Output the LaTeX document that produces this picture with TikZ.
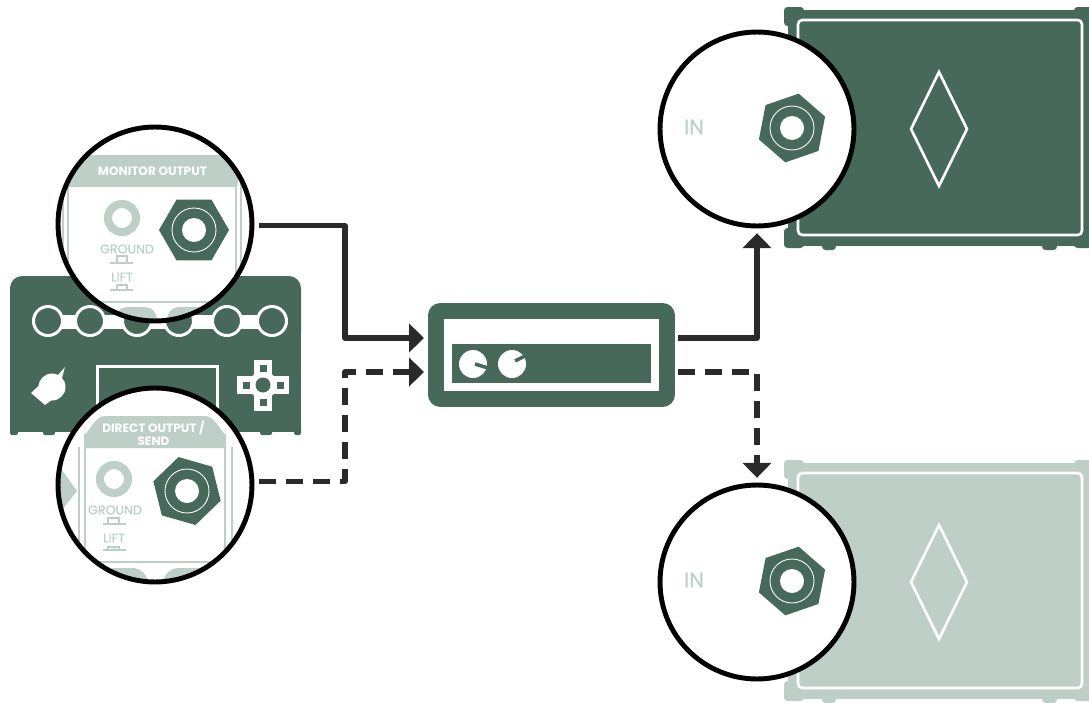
\documentclass[tikz,border=0pt]{standalone}
\usepackage{fontspec}
\setmainfont{Poppins}
\newfontfamily\markfont[FakeBold=0.4]{Poppins}
\usetikzlibrary{arrows.meta}
\definecolor{ampdark}{HTML}{47695A}
\definecolor{amplight}{HTML}{BDCFC7}
\definecolor{wirecol}{HTML}{2A2A2A}
\tikzset{
  lens/.style={circle, draw=black, line width=2.8pt, minimum size=3.88cm, inner sep=0pt, outer sep=4.1pt},
  wire/.style={draw=wirecol, line width=2.9pt, line join=round},
  dashwire/.style={wire, dash pattern=on 9.6pt off 5.8pt},
  tip/.style={-{Triangle[length=8.5pt, width=16pt]}},
  paneltxt/.style={text=white, font=\bfseries\fontsize{6.9}{7.4}\selectfont, align=center, inner sep=0pt},
  marktxt/.style={text=amplight, font=\markfont\fontsize{7.2}{8}\selectfont, inner sep=0pt},
  intxt/.style={text=amplight, font=\markfont\fontsize{12}{14}\selectfont, inner sep=0pt},
  panelline/.style={draw=amplight, line width=1.2pt},
  whiteline/.style={draw=white, line width=1.5pt}
}
\begin{document}
\begin{tikzpicture}[x=0.02cm, y=-0.02cm]
          \useasboundingbox (0,0) rectangle (1089,703);

          % speaker cabinets
          \foreach \yy/\bodycol in {0/ampdark,453/amplight} {
            \begin{scope}[shift={(0,\yy)}]
              \fill[\bodycol] (788,10) rectangle (1089,245.5);
              \fill[\bodycol, rounded corners=2pt] (784,7) rectangle (804,26);
              \fill[\bodycol, rounded corners=2pt] (784,228) rectangle (804,248);
              \fill[\bodycol, rounded corners=2pt] (822,240) rectangle (836,250);
              \fill[\bodycol, rounded corners=2pt] (1042,240) rectangle (1057,250);
              \fill[\bodycol, rounded corners=2pt] (1074,228) rectangle (1095,248);
              \fill[\bodycol, rounded corners=2pt] (1074,7) rectangle (1095,26);
              \draw[whiteline, rounded corners=2.5pt] (798,20) rectangle (1082,235);
              \draw[whiteline] (939,72) -- (967,129) -- (939,186) -- (911,129) -- cycle;
            \end{scope}
          }

          % amp head
          \fill[ampdark, rounded corners=7pt] (10,276) rectangle (301,345);
          \fill[ampdark] (10,320) rectangle (301,432);
          \foreach \xx/\ww in {10/8,43/12,260/12,294/7} {
            \fill[ampdark, rounded corners=1.2pt] (\xx,425) rectangle ({\xx+\ww},435);
          }
          \fill[white] (48,314.5) rectangle (272,328.5);
          \foreach \xx in {48,90,137,179,227,272} {
            \filldraw[fill=ampdark, draw=white, line width=1.7pt] (\xx,321) circle (14.5);
          }
          \fill[white] (52,387) circle (13.5);
          \fill[white] (65,367) -- (58,375) -- (47,378) -- (31,393) -- (45,405) -- (57,396) -- cycle;
          \draw[white, line width=2pt] (97.5,420) -- (97.5,366.5) -- (217.5,366.5) -- (217.5,420);
          \fill[white] (254,360) rectangle (272,411);
          \fill[white] (237,376) rectangle (289,394);
          \fill[white] (263,385) circle (14);
          \fill[ampdark] (263,385) circle (7.5);
          \foreach \xx/\yy in {246/385,280/385,263/368,263/402} {
            \fill[ampdark] ({\xx-3.5},{\yy-3.5}) rectangle ({\xx+3.5},{\yy+3.5});
          }

          % rack unit
          \node[fill=ampdark, rounded corners=7pt, minimum width=4.94cm, minimum height=2.08cm, inner sep=0pt, outer sep=0pt] (rack) at (551.5,355) {};
          \fill[white] (444,319) rectangle (659,391);
          \fill[ampdark] (452,344) rectangle (651,383);
          \fill[white] (473,364) circle (14);
          \fill[white] (512,364) circle (14);
          \draw[ampdark, line width=2pt] (475,364) -- (488,368);
          \draw[ampdark, line width=2pt] (515,361) -- (525,356);

          % white lens discs
          \fill[white] (155,224) circle (97);
          \fill[white] (155,485) circle (97);
          \fill[white] (757,129) circle (97);
          \fill[white] (757,582) circle (97);

          % monitor output panel
          \begin{scope}
            \clip (155,224) circle (97);
            \fill[amplight, rounded corners=1pt] (55,155) rectangle (238,187);
            \draw[panelline] (68,187) -- (68,302) -- (236,302) -- (236,187);
            \draw[panelline] (63,187) -- (63,310);
            \draw[panelline] (241,170) -- (241,310);
            \fill[amplight, rounded corners=7pt] (115,307) rectangle (157,340);
            \fill[amplight, rounded corners=7pt] (167,307) rectangle (209,340);
            \draw[amplight, line width=4.6pt] (122,218) circle (14);
            \node[paneltxt] (montitle) at (152.5,171.5) {MONITOR OUTPUT};
            \node[marktxt] (monground) at (127,249) {GROUND};
            \node[marktxt] (monlift) at (122,277) {LIFT};
            \draw[amplight, line width=0.6pt] (110,263) -- (133,263);
            \draw[amplight, line width=0.6pt] (117,263) -- (117,256) -- (127,256) -- (127,263);
            \draw[amplight, line width=0.6pt] (110,290) -- (133,290);
            \draw[amplight, line width=0.6pt] (117,290) -- (117,285) -- (127,285) -- (127,290);
          \end{scope}

          % direct output panel
          \begin{scope}
            \clip (155,485) circle (97);
            \fill[amplight] (84,448) -- (84,432) to[out=-90, in=180] (104,416) -- (206,416) to[out=0, in=-90] (226,432) -- (226,448) -- cycle;
            \draw[panelline] (85,448) -- (85,562) -- (225,562) -- (225,448);
            \draw[panelline] (79,447) -- (79,590);
            \draw[panelline] (232,447) -- (232,590);
            \fill[amplight] (62,470) -- (77,491) -- (62,510) -- (50,510) -- (50,470) -- cycle;
            \fill[amplight, rounded corners=9pt] (100,568) rectangle (148,600);
            \fill[amplight, rounded corners=9pt] (163,568) rectangle (220,600);
            \draw[amplight, line width=4.6pt] (114,479) circle (14);
            \node[paneltxt] (dirtitle) at (153.5,433.5) {DIRECT OUTPUT /\\SEND};
            \node[marktxt] (dirground) at (115,510) {GROUND};
            \node[marktxt] (dirlift) at (114,538) {LIFT};
            \draw[amplight, line width=0.6pt] (103,524) -- (126,524);
            \draw[amplight, line width=0.6pt] (108,524) -- (108,518) -- (119,518) -- (119,524);
            \draw[amplight, line width=0.6pt] (103,550) -- (126,550);
            \draw[amplight, line width=0.6pt] (108,550) -- (108,547) -- (119,547) -- (119,550);
          \end{scope}

          \node[intxt] (intop) at (694,127) {IN};
          \node[intxt] (inbot) at (694,580) {IN};

          % jack nuts
          \foreach \xx/\yy/\rot in {194/230/0,187/491/104,792/128/79,792/581/79} {
            \fill[ampdark, shift={(\xx,\yy)}, rotate=\rot] (0:35) -- (60:35) -- (120:35) -- (180:35) -- (240:35) -- (300:35) -- cycle;
            \draw[white, line width=0.5pt] (\xx,\yy) circle (22);
            \fill[white] (\xx,\yy) circle (12);
          }

          % lens rings
          \node[lens] (monlens) at (155,224) {};
          \node[lens] (dirlens) at (155,485) {};
          \node[lens] (toplens) at (757,129) {};
          \node[lens] (botlens) at (757,582) {};

          % connectors
          \coordinate (midleft) at (345,355);
          \coordinate (rackinA) at ([shift={(-4,-17)}]rack.west);
          \coordinate (rackinB) at ([shift={(-4,17)}]rack.west);
          \coordinate (rackoutA) at ([shift={(3,-17)}]rack.east);
          \coordinate (rackoutB) at ([shift={(3,17)}]rack.east);

          \draw[wire, tip] (monlens.-1) -| (midleft |- rackinA) -- (rackinA);
          \draw[dashwire, tip] (dirlens.2) -| (midleft |- rackinB) -- (rackinB);
          \draw[wire, tip] (rackoutA) -| (toplens.south);
          \draw[dashwire, tip] (rackoutB) -| (botlens.north);
\end{tikzpicture}
\end{document}
